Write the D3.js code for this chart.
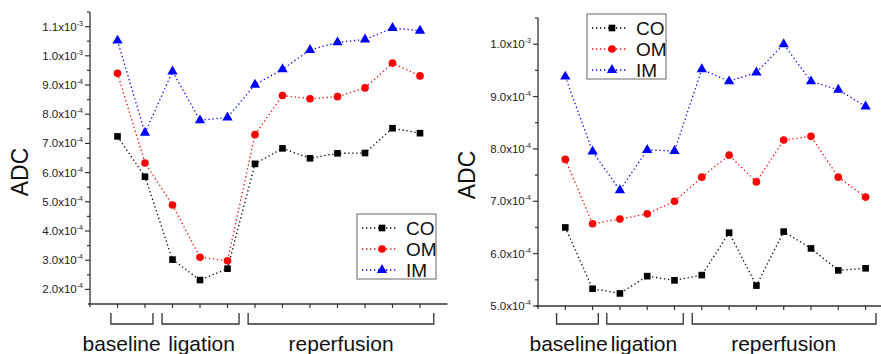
<!DOCTYPE html>
<html>
<head>
<meta charset="utf-8">
<script src="https://cdn.jsdelivr.net/npm/d3@7"></script>
<style>
  body { margin: 0; background: #fff; }
  svg { display: block; font-family: "Liberation Sans", Arial, sans-serif; }
</style>
</head>
<body>
<div id="chart"></div>
<script>
// time points along the x axis (same for both panels)
const timepoints = [1, 2, 3, 4, 5, 6, 7, 8, 9, 10, 11, 12];
const seriesNames = ["CO", "OM", "IM"];
const phaseNames = ["baseline", "ligation", "reperfusion"];

// left panel values
const leftCO = [7.24e-4, 5.86e-4, 3.02e-4, 2.32e-4, 2.71e-4, 6.30e-4, 6.83e-4, 6.49e-4, 6.66e-4, 6.67e-4, 7.52e-4, 7.35e-4];
const leftOM = [9.40e-4, 6.33e-4, 4.89e-4, 3.10e-4, 2.98e-4, 7.30e-4, 8.64e-4, 8.53e-4, 8.60e-4, 8.90e-4, 9.75e-4, 9.31e-4];
const leftIM = [1.052e-3, 7.36e-4, 9.46e-4, 7.79e-4, 7.89e-4, 9.01e-4, 9.54e-4, 1.020e-3, 1.046e-3, 1.056e-3, 1.095e-3, 1.086e-3];
const leftTicks = [2e-4, 3e-4, 4e-4, 5e-4, 6e-4, 7e-4, 8e-4, 9e-4, 1.0e-3, 1.1e-3];

// right panel values
const rightCO = [6.50e-4, 5.33e-4, 5.24e-4, 5.57e-4, 5.49e-4, 5.59e-4, 6.40e-4, 5.39e-4, 6.42e-4, 6.10e-4, 5.68e-4, 5.72e-4];
const rightOM = [7.80e-4, 6.57e-4, 6.66e-4, 6.76e-4, 7.00e-4, 7.46e-4, 7.88e-4, 7.37e-4, 8.17e-4, 8.24e-4, 7.46e-4, 7.08e-4];
const rightIM = [9.38e-4, 7.95e-4, 7.21e-4, 7.98e-4, 7.96e-4, 9.52e-4, 9.29e-4, 9.46e-4, 1.000e-3, 9.29e-4, 9.13e-4, 8.81e-4];
const rightTicks = [5e-4, 6e-4, 7e-4, 8e-4, 9e-4, 1.0e-3];

const width = 881, height = 354;
const colors = { CO: "#000", OM: "#ff0000", IM: "#0000ff" };
const symbols = { CO: d3.symbolSquare, OM: d3.symbolCircle, IM: d3.symbolTriangle };
const symSize = { CO: 44, OM: 46, IM: 46 };
const axisColor = "#333";

const svg = d3.select("#chart").append("svg")
    .attr("width", width)
    .attr("height", height);

function drawPanel(p) {
  const g = svg.append("g");

  const x = d3.scaleLinear().domain([0, 13]).range([p.left, p.left + 13 * p.step]);
  const y = d3.scaleLinear().domain(p.yDomain).range([p.bottom, p.top]);

  // y axis
  const minor = p.ticks.map(t => t + p.tickStep / 2).concat([p.ticks[0] - p.tickStep / 2])
      .filter(t => t > p.yDomain[0] + 1e-9 && t <= p.yDomain[1] + 1e-9);
  g.append("line")
      .attr("x1", p.left).attr("x2", p.left)
      .attr("y1", y(p.yDomain[1])).attr("y2", p.bottom + 3)
      .attr("stroke", axisColor).attr("stroke-width", 1.3);
  g.selectAll(".ymaj").data(p.ticks).join("line")
      .attr("x1", p.left - 5).attr("x2", p.left)
      .attr("y1", d => y(d)).attr("y2", d => y(d))
      .attr("stroke", axisColor).attr("stroke-width", 1.2);
  g.selectAll(".ymin").data(minor).join("line")
      .attr("x1", p.left - 3).attr("x2", p.left)
      .attr("y1", d => y(d)).attr("y2", d => y(d))
      .attr("stroke", axisColor).attr("stroke-width", 1.2);

  // tick labels like 7.0x10^-4
  const lab = g.selectAll(".ylab").data(p.ticks).join("text")
      .attr("x", p.left - 7)
      .attr("y", d => y(d) + 4)
      .attr("text-anchor", "end")
      .attr("font-size", 11.5)
      .attr("fill", "#222");
  lab.each(function(d) {
    const e = Math.floor(Math.log10(d) + 1e-9);
    const m = d / Math.pow(10, e);
    const t = d3.select(this);
    t.append("tspan").text(m.toFixed(1) + "x10");
    t.append("tspan").attr("dy", -5).attr("font-size", 7).text(String(e));
  });

  // x axis
  g.append("line")
      .attr("x1", p.left - 2).attr("x2", x(13))
      .attr("y1", p.bottom).attr("y2", p.bottom)
      .attr("stroke", axisColor).attr("stroke-width", 1.3);
  g.selectAll(".xt").data(timepoints).join("line")
      .attr("x1", d => x(d)).attr("x2", d => x(d))
      .attr("y1", p.bottom).attr("y2", p.bottom + 4)
      .attr("stroke", axisColor).attr("stroke-width", 1.2);

  // y title
  g.append("text")
      .attr("transform", `translate(${p.titleX},${p.titleY}) rotate(-90)`)
      .attr("text-anchor", "middle")
      .attr("font-size", 23)
      .attr("fill", "#111")
      .text("ADC");

  // series
  const line = d3.line().x((d, i) => x(timepoints[i])).y(d => y(d));
  p.series.forEach((vals, si) => {
    const name = seriesNames[si];
    g.append("path")
        .datum(vals)
        .attr("d", line)
        .attr("fill", "none")
        .attr("stroke", colors[name])
        .attr("stroke-width", 1.3)
        .attr("stroke-dasharray", "1.3,2.7");
    g.selectAll(".m" + name).data(vals).join("path")
        .attr("transform", (d, i) => `translate(${x(timepoints[i])},${y(d)})`)
        .attr("d", d3.symbol().type(symbols[name]).size(symSize[name]))
        .attr("fill", colors[name]);
  });

  // phase brackets and labels
  p.brackets.forEach((b, i) => {
    const x0 = x(b[0]), x1 = x(b[1]);
    g.append("path")
        .attr("d", `M${x0},${p.bracketTop}V${p.bracketTop + 11}H${x1}V${p.bracketTop}`)
        .attr("fill", "none")
        .attr("stroke", axisColor)
        .attr("stroke-width", 1.3);
    g.append("text")
        .attr("x", x(p.labelAt[i]))
        .attr("y", 351)
        .attr("text-anchor", "middle")
        .attr("font-size", 21)
        .attr("fill", "#111")
        .text(phaseNames[i]);
  });

  // legend
  const lg = g.append("g").attr("transform", `translate(${p.legend[0]},${p.legend[1]})`);
  lg.append("rect")
      .attr("width", 79).attr("height", 65)
      .attr("fill", "#fff")
      .attr("stroke", "#666").attr("stroke-width", 1);
  seriesNames.forEach((name, i) => {
    const ly = 14 + i * 21;
    lg.append("line")
        .attr("x1", 5).attr("x2", 40).attr("y1", ly).attr("y2", ly)
        .attr("stroke", colors[name]).attr("stroke-width", 1.3)
        .attr("stroke-dasharray", "1.3,2.7");
    lg.append("path")
        .attr("transform", `translate(25,${ly})`)
        .attr("d", d3.symbol().type(symbols[name]).size(symSize[name]))
        .attr("fill", colors[name]);
    lg.append("text")
        .attr("x", 49).attr("y", ly + 7)
        .attr("font-size", 19)
        .attr("fill", "#111")
        .text(name);
  });
}

drawPanel({
  left: 90, step: 27.5, top: 12, bottom: 304,
  yDomain: [1.5e-4, 1.15e-3], ticks: leftTicks, tickStep: 1e-4,
  series: [leftCO, leftOM, leftIM],
  titleX: 28, titleY: 172,
  brackets: [[0.76, 2.29], [2.62, 5.42], [5.75, 12.5]],
  bracketTop: 313,
  labelAt: [1.15, 4.06, 9.13],
  legend: [357, 214]
});

drawPanel({
  left: 538, step: 27.3, top: 18, bottom: 306,
  yDomain: [5e-4, 1.05e-3], ticks: rightTicks, tickStep: 1e-4,
  series: [rightCO, rightOM, rightIM],
  titleX: 475, titleY: 175,
  brackets: [[0.68, 2.21], [2.52, 5.32], [5.65, 12.38]],
  bracketTop: 313,
  labelAt: [1.12, 3.88, 9.0],
  legend: [587, 14]
});
</script>
</body>
</html>
